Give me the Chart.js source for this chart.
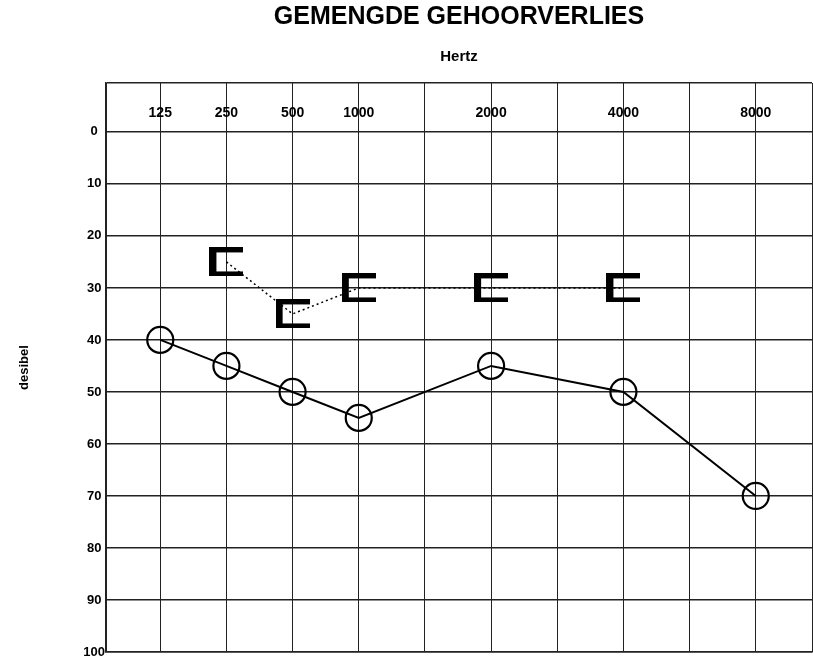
<!DOCTYPE html>
<html>
<head>
<meta charset="utf-8">
<script src="https://cdn.jsdelivr.net/npm/chart.js@4.4.1/dist/chart.umd.min.js"></script>
<style>
  html, body { margin: 0; padding: 0; background: #fff; overflow: hidden; }
  #wrap { width: 813px; height: 659px; position: relative; }
</style>
</head>
<body>
<div id="wrap"><canvas id="c" width="813" height="659"></canvas></div>
<script>
// ---- data ----
const freqLabels = ['125', '250', '500', '1000', '2000', '4000', '8000'];
const freqPositions = [1, 2, 3, 4, 6, 8, 10];
const airLevels = [40, 45, 50, 55, 45, 50, 70];
const boneFreqIdx = [1, 2, 3, 4, 5];          // 250, 500, 1000, 2000, 4000
const boneLevels = [25, 35, 30, 30, 30];
const yTickValues = [0, 10, 20, 30, 40, 50, 60, 70, 80, 90, 100];

const airPoints = freqPositions.map((p, i) => ({ x: p, y: airLevels[i] }));
const bonePoints = boneFreqIdx.map((fi, i) => ({ x: freqPositions[fi], y: boneLevels[i] }));

// bracket symbol for bone conduction
function makeBracket() {
  const w = 34, h = 29;
  const cv = document.createElement('canvas');
  cv.width = w; cv.height = h;
  const g = cv.getContext('2d');
  g.fillStyle = '#000';
  g.fillRect(0, 0, 7, h);      // vertical bar
  g.fillRect(0, 0, w, 5);      // top arm
  g.fillRect(0, h - 5, w, 5);  // bottom arm
  return cv;
}
const bracket = makeBracket();

const xLabelPlugin = {
  id: 'xLabels',
  afterDraw(chart) {
    const ctx = chart.ctx;
    const xs = chart.scales.x, ys = chart.scales.y;
    ctx.save();
    ctx.fillStyle = '#000';
    ctx.font = 'bold 14px "Liberation Sans", Arial, sans-serif';
    ctx.textAlign = 'center';
    ctx.textBaseline = 'middle';
    const yPix = ys.getPixelForValue(-3.7);
    freqLabels.forEach((lab, i) => {
      ctx.fillText(lab, xs.getPixelForValue(freqPositions[i]), yPix);
    });
    ctx.restore();
  }
};

const gridColor = '#222';

new Chart(document.getElementById('c'), {
  type: 'line',
  data: {
    datasets: [
      {
        label: 'Lucht',
        data: airPoints,
        borderColor: '#000',
        borderWidth: 2,
        pointStyle: 'circle',
        pointRadius: 13,
        pointHoverRadius: 13,
        pointBorderWidth: 2.2,
        pointBorderColor: '#000',
        pointBackgroundColor: 'rgba(0,0,0,0)',
        tension: 0,
        fill: false
      },
      {
        label: 'Been',
        data: bonePoints,
        borderColor: '#000',
        borderWidth: 1.5,
        borderDash: [2, 3],
        pointStyle: bracket,
        pointRadius: 14,
        pointHoverRadius: 14,
        tension: 0,
        fill: false
      }
    ]
  },
  options: {
    responsive: false,
    animation: false,
    events: [],
    layout: { autoPadding: false, padding: { left: 0, right: 1, top: 0, bottom: 7 } },
    plugins: {
      legend: { display: false },
      tooltip: { enabled: false },
      title: {
        display: true,
        fullSize: false,
        text: 'GEMENGDE GEHOORVERLIES',
        color: '#000',
        font: { family: '"Liberation Sans", Arial, sans-serif', size: 25, weight: 'bold', lineHeight: 1.2 },
        padding: { top: 2, bottom: 10 }
      },
      subtitle: {
        display: true,
        fullSize: false,
        text: 'Hertz',
        color: '#000',
        font: { family: '"Liberation Sans", Arial, sans-serif', size: 15, weight: 'bold', lineHeight: 1.2 },
        padding: { top: 6, bottom: 17 }
      }
    },
    scales: {
      x: {
        type: 'linear',
        position: 'bottom',
        min: 0.18,
        max: 10.85,
        afterFit(scale) { scale.height = 0; scale.paddingLeft = 0; scale.paddingRight = 0; },
        ticks: { display: false, stepSize: 1 },
        grid: { color: gridColor, lineWidth: 1, drawTicks: false },
        border: { color: gridColor, width: 1.5 }
      },
      y: {
        type: 'linear',
        reverse: true,
        min: -9.4,
        max: 100,
        afterFit(scale) { scale.width = 106; scale.paddingTop = 0; scale.paddingBottom = 0; },
        ticks: {
          stepSize: 10,
          color: '#000',
          padding: 1,
          crossAlign: 'center',
          font: { family: '"Liberation Sans", Arial, sans-serif', size: 13, weight: 'bold' },
          callback: (v) => (yTickValues.includes(v) ? String(v) : '')
        },
        grid: { color: gridColor, lineWidth: 1.5, drawTicks: false },
        border: { color: gridColor, width: 1.5 },
        title: {
          display: true,
          text: 'desibel',
          color: '#000',
          font: { family: '"Liberation Sans", Arial, sans-serif', size: 13, weight: 'bold' },
          padding: { top: 17, bottom: 0 }
        }
      }
    }
  },
  plugins: [xLabelPlugin]
});
</script>
</body>
</html>
